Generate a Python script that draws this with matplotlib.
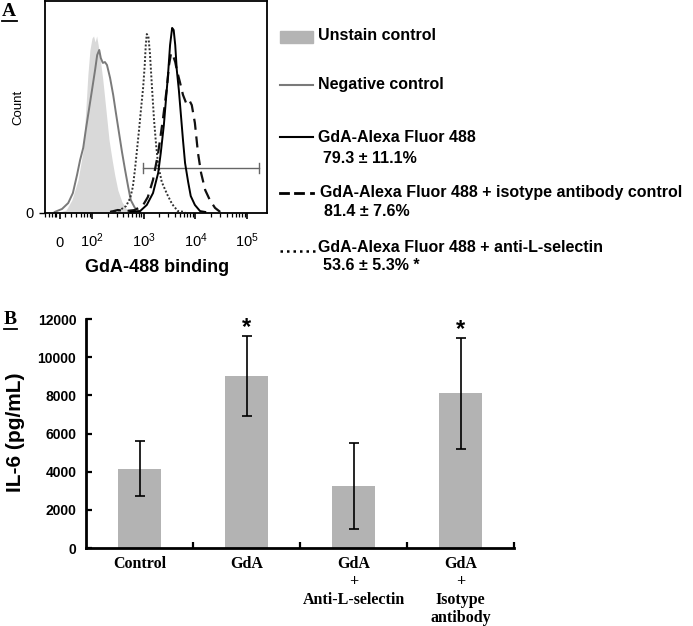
import matplotlib
matplotlib.use('Agg')
import matplotlib.pyplot as plt
from matplotlib.lines import Line2D
from matplotlib.patches import Rectangle
import math

plt.rcParams['font.family'] = ['Liberation Sans', 'DejaVu Sans']
plt.rcParams['mathtext.fontset'] = 'custom'
plt.rcParams['mathtext.rm'] = 'Liberation Sans'
plt.rcParams['mathtext.it'] = 'Liberation Sans:italic'
plt.rcParams['mathtext.bf'] = 'Liberation Sans:bold'

# ---------------- Panel A data (x: decade position of fluorescence, y: relative count)
unstain_x = [1.38, 1.50, 1.61, 1.73, 1.83, 1.88, 1.92, 1.96, 2.00, 2.03, 2.06, 2.09, 2.12, 2.15,
             2.21, 2.27, 2.33, 2.39, 2.44, 2.50, 2.58, 2.68, 2.77]
unstain_y = [0.5, 1.4, 6.1, 15.6, 29.7, 48.6, 65.1, 76.9, 82.5, 83.5, 80.7, 83.5, 79.2, 74.5,
             62.7, 48.6, 34.4, 25.0, 17.9, 10.8, 5.2, 1.4, 0.5]

negctrl_x = [1.28, 1.42, 1.54, 1.63, 1.71, 1.77, 1.83, 1.88, 1.94, 2.00, 2.06, 2.10, 2.14, 2.17,
             2.21, 2.25, 2.29, 2.35, 2.41, 2.46, 2.52, 2.58, 2.64, 2.70, 2.75, 2.83, 2.93]
negctrl_y = [0.5, 1.9, 4.7, 9.4, 17.9, 25.0, 30.7, 39.2, 48.6, 58.0, 67.5, 74.5, 76.9, 73.1,
             70.8, 71.2, 69.8, 63.7, 55.7, 47.6, 38.2, 28.8, 20.3, 12.3, 6.1, 2.4, 0.5]

gda_x = [2.74, 2.93, 3.06, 3.18, 3.28, 3.33, 3.39, 3.43, 3.47, 3.51, 3.55, 3.58, 3.61, 3.64,
         3.68, 3.72, 3.76, 3.80, 3.86, 3.91, 3.99, 4.09, 4.19]
gda_y = [0.5, 0.9, 3.8, 9.4, 18.9, 28.3, 41.5, 53.3, 65.1, 79.2, 87.3, 86.3, 79.2, 67.5,
         58.0, 46.2, 34.4, 23.6, 14.6, 8.0, 3.8, 0.9, 0.5]

iso_x = [2.35, 2.50, 2.64, 2.83, 2.99, 3.08, 3.18, 3.28, 3.37, 3.45, 3.49, 3.53, 3.57, 3.61,
         3.64, 3.70, 3.76, 3.82, 3.88, 3.93, 3.99, 4.05, 4.11, 4.19, 4.28, 4.38, 4.48]
iso_y = [0.5, 1.4, 0.9, 1.4, 3.8, 7.5, 15.6, 28.3, 43.9, 59.4, 69.8, 75.5, 74.1, 71.2,
         67.5, 61.8, 55.7, 51.9, 53.3, 50.9, 42.5, 28.3, 18.9, 10.8, 6.1, 2.4, 0.5]

antil_x = [2.35, 2.54, 2.66, 2.74, 2.79, 2.83, 2.87, 2.91, 2.95, 2.99, 3.02, 3.04, 3.06, 3.09,
           3.12, 3.16, 3.20, 3.24, 3.28, 3.35, 3.45, 3.55, 3.66, 3.80]
antil_y = [0.5, 1.4, 3.3, 7.1, 12.3, 20.3, 29.7, 39.2, 49.5, 59.4, 69.8, 79.2, 84.4, 83.5,
           75.5, 59.4, 43.9, 32.1, 22.6, 14.6, 9.0, 4.2, 0.9, 0.5]

gate_range = [2.99, 5.23]
gate_level = 21.2

zero_pos = 1.38
decades = [2, 3, 4, 5]
xtick_labels_A = ['0', '$10^2$', '$10^3$', '$10^4$', '$10^5$']

legend_labels = ['Unstain control', 'Negative control', 'GdA-Alexa Fluor 488',
                 'GdA-Alexa Fluor 488 + isotype antibody control',
                 'GdA-Alexa Fluor 488 + anti-L-selectin']
legend_stats = [None, None, '79.3 ± 11.1%', '81.4 ± 7.6%', '53.6 ± 5.3% *']

# ---------------- Panel B data
categories = ['Control', 'GdA', 'GdA\n+\nAnti-L-selectin', 'GdA\n+\nIsotype\nantibody']
il6_mean = [4150, 9000, 3250, 8100]
il6_err = [1450, 2100, 2230, 2900]
significant = [False, True, False, True]
yticks_B = [0, 2000, 4000, 6000, 8000, 10000, 12000]

W, H = 693, 626
fig = plt.figure(figsize=(W / 100, H / 100), dpi=100)


def fx(x):
    return x / W


def fy(y):
    return 1 - y / H


# ================= Panel A =================
axA = fig.add_axes([fx(45), fy(213), (267 - 45) / W, (213 - 1) / H])
axA.fill_between(unstain_x, unstain_y, 0, color='#d9d9d9', lw=0, zorder=1)
axA.plot(negctrl_x, negctrl_y, color='#7a7a7a', lw=1.4, zorder=2)
axA.plot(antil_x, antil_y, color='#333333', lw=1.4, ls=(0, (1, 1)), zorder=3)
axA.plot(iso_x, iso_y, color='#111111', lw=1.6, ls=(0, (5, 3)), zorder=3)
axA.plot(gda_x, gda_y, color='black', lw=1.4, zorder=4)

# gate marker
axA.plot(gate_range, [gate_level, gate_level], color='#666666', lw=1.0)
for gx in gate_range:
    axA.plot([gx, gx], [gate_level - 2.4, gate_level + 2.4], color='#666666', lw=1.0)

axA.set_xlim(1.091, 5.385)
axA.set_ylim(0, 100)
for s in axA.spines.values():
    s.set_linewidth(1.3)

major_pos = [zero_pos] + decades
axA.set_xticks(major_pos)
axA.set_xticklabels(xtick_labels_A, fontsize=10.5)
minor = [1.10, 1.16, 1.22, 1.28]
for d in [1, 2, 3, 4]:
    for k in range(2, 10):
        v = d + math.log10(k)
        if 1.09 < v < 5.38:
            minor.append(v)
axA.set_xticks(minor, minor=True)
axA.tick_params(axis='x', which='major', direction='out', length=4.5, width=1.2, pad=20)
axA.tick_params(axis='x', which='minor', direction='out', length=3, width=0.9)
for lab in axA.get_xticklabels():
    lab.set_verticalalignment('baseline')
axA.set_yticks([0])
axA.set_yticklabels(['0'], fontsize=10.5)
axA.tick_params(axis='y', direction='out', length=4, width=1.0, pad=4)

fig.text(fx(18), fy(107), 'Count', rotation=90, ha='center', va='center', fontsize=9.5)
fig.text(fx(157), fy(268), 'GdA-488 binding', ha='center', va='center', fontsize=13,
         fontweight='bold')

# Panel label A
fig.text(fx(2), fy(12), 'A', ha='left', va='center', fontsize=14, fontweight='bold',
         family='Liberation Serif')
fig.add_artist(Line2D([fx(2), fx(17)], [fy(21), fy(21)], color='black', lw=1.3))

# Legend
lx0, lx1 = 280, 313
fig.add_artist(Rectangle((fx(lx0), fy(43)), (lx1 - lx0) / W, 12 / H, color='#b4b4b4',
                         transform=fig.transFigure))
fig.add_artist(Line2D([fx(lx0), fx(lx1)], [fy(85), fy(85)], color='#7a7a7a', lw=1.5))
fig.add_artist(Line2D([fx(lx0), fx(lx1)], [fy(137), fy(137)], color='black', lw=1.5))
fig.add_artist(Line2D([fx(lx0), fx(288)], [fy(193), fy(193)], color='black', lw=2))
fig.add_artist(Line2D([fx(295), fx(303)], [fy(193), fy(193)], color='black', lw=2))
fig.add_artist(Line2D([fx(311), fx(313)], [fy(193), fy(193)], color='black', lw=2))
fig.add_artist(Line2D([fx(lx0), fx(316)], [fy(251), fy(251)], color='black', lw=1.8,
                      ls=(0, (1, 1.6))))

leg_text_pos = [(318, 36), (318, 85), (318, 137), (320, 193), (318, 247)]
leg_stat_pos = [None, None, (323, 158), (324, 212), (323, 265)]
for lab, st, tp, sp in zip(legend_labels, legend_stats, leg_text_pos, leg_stat_pos):
    fig.text(fx(tp[0]), fy(tp[1]), lab, ha='left', va='center', fontsize=11.5,
             fontweight='bold')
    if st is not None:
        fig.text(fx(sp[0]), fy(sp[1]), st, ha='left', va='center', fontsize=11.5,
                 fontweight='bold')

# ================= Panel B =================
axB = fig.add_axes([fx(86), fy(548), 428 / W, 229 / H])
xpos = list(range(len(categories)))
axB.bar(xpos, il6_mean, width=0.41, color='#b3b3b3', zorder=1)
axB.errorbar(xpos, il6_mean, yerr=il6_err, fmt='none', ecolor='black', elinewidth=1.2,
             capsize=3.3, capthick=1.2, zorder=2)
for x, m, e, sig in zip(xpos, il6_mean, il6_err, significant):
    if sig:
        axB.text(x, m + e + 430, '*', ha='center', va='center', fontsize=17,
                 fontweight='bold')

axB.set_xlim(-0.5, 3.5)
axB.set_ylim(0, 12000)
axB.spines['top'].set_visible(False)
axB.spines['right'].set_visible(False)
axB.spines['left'].set_linewidth(2)
axB.spines['bottom'].set_linewidth(2)
axB.set_yticks(yticks_B)
axB.set_yticklabels([str(v) for v in yticks_B], fontsize=10, fontweight='bold')
axB.tick_params(axis='y', direction='in', length=4, width=1.6, pad=7)
axB.set_xticks(xpos)
axB.set_xticklabels(categories, fontsize=11.5, fontweight='bold', family='Liberation Serif',
                    linespacing=1.15)
axB.tick_params(axis='x', which='major', length=0, pad=6)
axB.set_xticks([0.5, 1.5, 2.5, 3.5], minor=True)
axB.tick_params(axis='x', which='minor', direction='in', length=4, width=1.6)
axB.set_ylabel('IL-6 (pg/mL)', fontsize=15, fontweight='bold')
axB.yaxis.set_label_coords(-0.1425, 0.507)

fig.text(fx(4), fy(319), 'B', ha='left', va='center', fontsize=14, fontweight='bold',
         family='Liberation Serif')
fig.add_artist(Line2D([fx(4), fx(17)], [fy(329), fy(329)], color='black', lw=1.3))

fig.savefig('out.png', dpi=100)
